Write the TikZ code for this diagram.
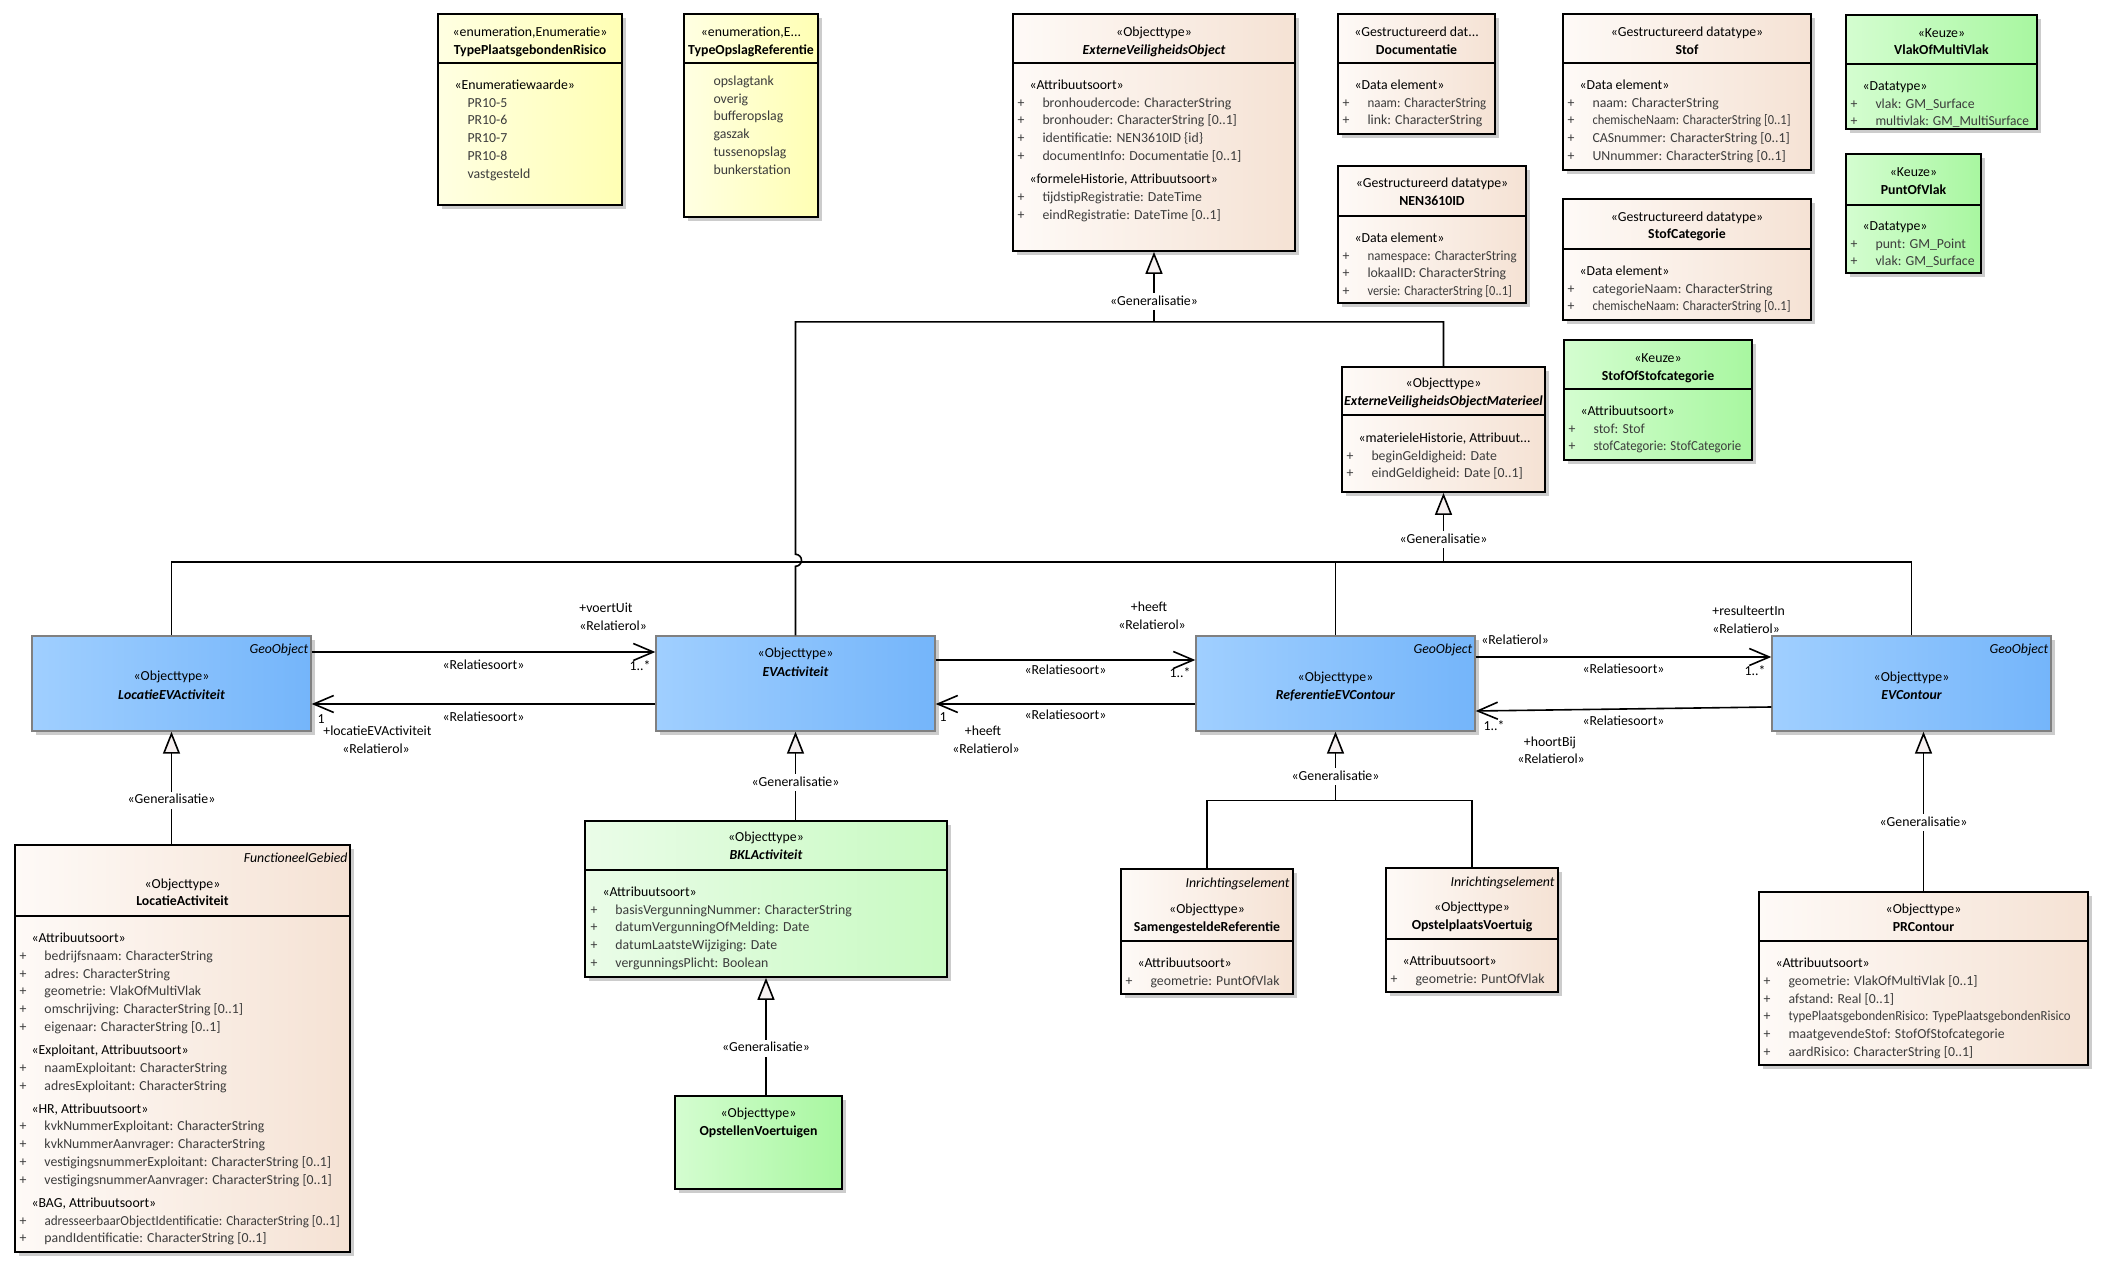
\documentclass[tikz,border=0pt]{standalone}
\usepackage{fontspec}
\setmainfont{Carlito}
\usetikzlibrary{arrows.meta, calc, fit, shadows}

\definecolor{enumL}{HTML}{FFFFE2}
\definecolor{enumR}{HTML}{FFFFB4}
\definecolor{objL}{HTML}{FEFAF7}
\definecolor{objR}{HTML}{F5E2D4}
\definecolor{keuzeL}{HTML}{D4FDD0}
\definecolor{keuzeR}{HTML}{A8F7A0}
\definecolor{bklL}{HTML}{EAFCE8}
\definecolor{bklR}{HTML}{C8FAC2}
\definecolor{geoL}{HTML}{A0CFFF}
\definecolor{geoR}{HTML}{74B5FA}
\definecolor{geoEdge}{HTML}{808080}
\definecolor{attrText}{HTML}{3C3C3C}
\definecolor{genFill}{HTML}{F6F0F0}

\newcommand{\umlfont}{\fontsize{6.9}{8.9}\selectfont}
\newcommand{\attr}[1]{\makebox[12.5pt][l]{+}#1}
\newcommand{\enumval}[1]{\hspace*{12.5pt}#1}
\newcommand{\stereo}[1]{\hspace*{6pt}{\color{black}#1}}
\newcommand{\squeeze}[2]{\scalebox{#1}[1]{#2}}
\newcommand{\sepline}[2]{\draw[divider] ($(#1.north west)+(0,#2)$) -- ($(#1.north east)+(0,#2)$);}

\tikzset{
  txt/.style={font=\umlfont, inner sep=0pt, text height=4.8pt, text depth=1.3pt},
  boxtxt/.style={txt, yshift=-1.35pt},
  clstitle/.style={boxtxt, font=\umlfont\bfseries},
  abstitle/.style={boxtxt, font=\umlfont\bfseries\itshape},
  tagline/.style={boxtxt, font=\umlfont\itshape, anchor=east},
  attrs/.style={font=\umlfont, inner sep=0pt, anchor=base west, text=attrText, yshift=-2pt},
  genlbl/.style={txt, fill=white, inner sep=1.2pt},
  box/.style={draw=black, line width=0.9pt, inner sep=0pt,
    drop shadow={shadow xshift=1.8pt, shadow yshift=-1.8pt, fill=black!20, opacity=1}},
  enumbox/.style={box, left color=enumL, right color=enumR},
  objbox/.style={box, left color=objL, right color=objR},
  keuzebox/.style={box, left color=keuzeL, right color=keuzeR},
  bklbox/.style={box, left color=bklL, right color=bklR},
  geobox/.style={box, draw=geoEdge, line width=0.7pt, left color=geoL, right color=geoR},
  divider/.style={line width=0.9pt},
  conn/.style={line width=0.8pt},
  gen/.style={conn, -{Triangle[fill=genFill, length=11pt, width=8.5pt]}},
  assoc/.style={conn, -{Straight Barb[length=10pt, width=8.5pt]}}
}

\begin{document}
\begin{tikzpicture}[x=0.5pt, y=-0.5pt]

    \path[fill=white] (0,0) rectangle (2111,1272);
    \useasboundingbox (0,0) rectangle (2111,1272);

    % Enumerations
    \node[enumbox, fit={(438,14) (622,205)}] (tpr) {};
    \node[boxtxt] (tpr-st) at ($(tpr.north)+(0,17)$) {«enumeration,Enumeratie»};
    \node[clstitle] (tpr-nm) at ($(tpr.north)+(0,35)$) {TypePlaatsgebondenRisico};
    \sepline{tpr}{50}
    \node[attrs] (tpr-at) at ($(tpr.north west)+(5,72.3)$) {\begin{tabular}[t]{@{}l@{}}
        \stereo{«Enumeratiewaarde»}\\ \enumval{PR10-5}\\ \enumval{PR10-6}\\
        \enumval{PR10-7}\\ \enumval{PR10-8}\\ \enumval{vastgesteld}\end{tabular}};

    \node[enumbox, fit={(684,14) (818,217)}] (tor) {};
    \node[boxtxt] (tor-st) at ($(tor.north)+(0,17)$) {«enumeration,E...};
    \node[clstitle] (tor-nm) at ($(tor.north)+(0,35)$) {TypeOpslagReferentie};
    \sepline{tor}{50}
    \node[attrs] (tor-at) at ($(tor.north west)+(5,68.3)$) {\begin{tabular}[t]{@{}l@{}}
        \enumval{opslagtank}\\ \enumval{overig}\\ \enumval{bufferopslag}\\
        \enumval{gaszak}\\ \enumval{tussenopslag}\\ \enumval{bunkerstation}\end{tabular}};

    % Top object type and data types
    \node[objbox, fit={(1013,14) (1295,251)}] (evo) {};
    \node[boxtxt] (evo-st) at ($(evo.north)+(0,17)$) {«Objecttype»};
    \node[abstitle] (evo-nm) at ($(evo.north)+(0,35)$) {ExterneVeiligheidsObject};
    \sepline{evo}{50}
    \node[attrs] (evo-at) at ($(evo.north west)+(5,72.3)$) {\begin{tabular}[t]{@{}l@{}}
        \stereo{«Attribuutsoort»}\\ \attr{bronhoudercode: CharacterString}\\
        \attr{bronhouder: CharacterString [0..1]}\\ \attr{identificatie: NEN3610ID \{id\}}\\
        \attr{documentInfo: Documentatie [0..1]}\\[2.6pt]
        \stereo{«formeleHistorie, Attribuutsoort»}\\ \attr{tijdstipRegistratie: DateTime}\\
        \attr{eindRegistratie: DateTime [0..1]}\end{tabular}};

    \node[objbox, fit={(1338,14) (1495,134)}] (doc) {};
    \node[boxtxt] (doc-st) at ($(doc.north)+(0,17)$) {«Gestructureerd dat...};
    \node[clstitle] (doc-nm) at ($(doc.north)+(0,35)$) {Documentatie};
    \sepline{doc}{50}
    \node[attrs] (doc-at) at ($(doc.north west)+(5,72.3)$) {\begin{tabular}[t]{@{}l@{}}
        \stereo{«Data element»}\\ \attr{\squeeze{0.94}{naam: CharacterString}}\\
        \attr{link: CharacterString}\end{tabular}};

    \node[objbox, fit={(1338,166) (1526,303)}] (nen) {};
    \node[boxtxt] (nen-st) at ($(nen.north)+(0,16)$) {«Gestructureerd datatype»};
    \node[clstitle] (nen-nm) at ($(nen.north)+(0,34)$) {NEN3610ID};
    \sepline{nen}{51}
    \node[attrs] (nen-at) at ($(nen.north west)+(5,73.3)$) {\begin{tabular}[t]{@{}l@{}}
        \stereo{«Data element»}\\ \attr{\squeeze{0.94}{namespace: CharacterString}}\\
        \attr{lokaalID: CharacterString}\\ \attr{\squeeze{0.9}{versie: CharacterString [0..1]}}\end{tabular}};

    \node[objbox, fit={(1563,14) (1811,170)}] (stof) {};
    \node[boxtxt] (stof-st) at ($(stof.north)+(0,17)$) {«Gestructureerd datatype»};
    \node[clstitle] (stof-nm) at ($(stof.north)+(0,35)$) {Stof};
    \sepline{stof}{50}
    \node[attrs] (stof-at) at ($(stof.north west)+(5,72.3)$) {\begin{tabular}[t]{@{}l@{}}
        \stereo{«Data element»}\\ \attr{naam: CharacterString}\\
        \attr{\squeeze{0.9}{chemischeNaam: CharacterString [0..1]}}\\ \attr{CASnummer: CharacterString [0..1]}\\
        \attr{UNnummer: CharacterString [0..1]}\end{tabular}};

    \node[objbox, fit={(1563,199) (1811,320)}] (stofcat) {};
    \node[boxtxt] (stofcat-st) at ($(stofcat.north)+(0,17)$) {«Gestructureerd datatype»};
    \node[clstitle] (stofcat-nm) at ($(stofcat.north)+(0,34)$) {StofCategorie};
    \sepline{stofcat}{51}
    \node[attrs] (stofcat-at) at ($(stofcat.north west)+(5,73.3)$) {\begin{tabular}[t]{@{}l@{}}
        \stereo{«Data element»}\\ \attr{categorieNaam: CharacterString}\\
        \attr{\squeeze{0.9}{chemischeNaam: CharacterString [0..1]}}\end{tabular}};

    % Choice types
    \node[keuzebox, fit={(1564,340) (1752,460)}] (sosc) {};
    \node[boxtxt] (sosc-st) at ($(sosc.north)+(0,17)$) {«Keuze»};
    \node[clstitle] (sosc-nm) at ($(sosc.north)+(0,35)$) {StofOfStofcategorie};
    \sepline{sosc}{50}
    \node[attrs] (sosc-at) at ($(sosc.north west)+(5,72.3)$) {\begin{tabular}[t]{@{}l@{}}
        \stereo{«Attribuutsoort»}\\ \attr{stof: Stof}\\
        \attr{\squeeze{0.93}{stofCategorie: StofCategorie}}\end{tabular}};

    \node[keuzebox, fit={(1846,15) (2037,129)}] (vomv) {};
    \node[boxtxt] (vomv-st) at ($(vomv.north)+(0,17)$) {«Keuze»};
    \node[clstitle] (vomv-nm) at ($(vomv.north)+(0,34)$) {VlakOfMultiVlak};
    \sepline{vomv}{50}
    \node[attrs] (vomv-at) at ($(vomv.north west)+(5,72.3)$) {\begin{tabular}[t]{@{}l@{}}
        \stereo{«Datatype»}\\ \attr{vlak: GM\_Surface}\\
        \attr{\squeeze{0.97}{multivlak: GM\_MultiSurface}}\end{tabular}};

    \node[keuzebox, fit={(1846,154) (1981,273)}] (pov) {};
    \node[boxtxt] (pov-st) at ($(pov.north)+(0,17)$) {«Keuze»};
    \node[clstitle] (pov-nm) at ($(pov.north)+(0,35)$) {PuntOfVlak};
    \sepline{pov}{52}
    \node[attrs] (pov-at) at ($(pov.north west)+(5,73.3)$) {\begin{tabular}[t]{@{}l@{}}
        \stereo{«Datatype»}\\ \attr{punt: GM\_Point}\\
        \attr{vlak: GM\_Surface}\end{tabular}};

    % Materieel object type
    \node[objbox, fit={(1342,367) (1545,492)}] (evom) {};
    \node[boxtxt] (evom-st) at ($(evom.north)+(0,15)$) {«Objecttype»};
    \node[abstitle] (evom-nm) at ($(evom.north)+(0,33)$) {ExterneVeiligheidsObjectMaterieel};
    \sepline{evom}{49}
    \node[attrs] (evom-at) at ($(evom.north west)+(5,72.3)$) {\begin{tabular}[t]{@{}l@{}}
        \stereo{«materieleHistorie, Attribuut...}\\ \attr{beginGeldigheid: Date}\\
        \attr{eindGeldigheid: Date [0..1]}\end{tabular}};

    % GeoObject row
    \node[geobox, fit={(32,636) (311,731)}] (leva) {};
    \node[tagline] (leva-tg) at ($(leva.north east)+(-3,12)$) {GeoObject};
    \node[boxtxt] (leva-st) at ($(leva.north)+(0,39)$) {«Objecttype»};
    \node[abstitle] (leva-nm) at ($(leva.north)+(0,58)$) {LocatieEVActiviteit};

    \node[geobox, fit={(656,636) (935,731)}] (eva) {};
    \node[boxtxt] (eva-st) at ($(eva.north)+(0,16)$) {«Objecttype»};
    \node[abstitle] (eva-nm) at ($(eva.north)+(0,35)$) {EVActiviteit};

    \node[geobox, fit={(1196,636) (1475,731)}] (revc) {};
    \node[tagline] (revc-tg) at ($(revc.north east)+(-3,12)$) {GeoObject};
    \node[boxtxt] (revc-st) at ($(revc.north)+(0,40)$) {«Objecttype»};
    \node[abstitle] (revc-nm) at ($(revc.north)+(0,58)$) {ReferentieEVContour};

    \node[geobox, fit={(1772,636) (2051,731)}] (evc) {};
    \node[tagline] (evc-tg) at ($(evc.north east)+(-3,12)$) {GeoObject};
    \node[boxtxt] (evc-st) at ($(evc.north)+(0,40)$) {«Objecttype»};
    \node[abstitle] (evc-nm) at ($(evc.north)+(0,58)$) {EVContour};

    % Lower object types
    \node[objbox, fit={(15,845) (350,1252)}] (la) {};
    \node[tagline] (la-tg) at ($(la.north east)+(-3,12)$) {FunctioneelGebied};
    \node[boxtxt] (la-st) at ($(la.north)+(0,38)$) {«Objecttype»};
    \node[clstitle] (la-nm) at ($(la.north)+(0,55)$) {LocatieActiviteit};
    \sepline{la}{72}
    \node[attrs] (la-at) at ($(la.north west)+(5,94.3)$) {\begin{tabular}[t]{@{}l@{}}
        \stereo{«Attribuutsoort»}\\ \attr{bedrijfsnaam: CharacterString}\\
        \attr{adres: CharacterString}\\ \attr{geometrie: VlakOfMultiVlak}\\
        \attr{omschrijving: CharacterString [0..1]}\\ \attr{eigenaar: CharacterString [0..1]}\\[2.6pt]
        \stereo{«Exploitant, Attribuutsoort»}\\ \attr{naamExploitant: CharacterString}\\
        \attr{adresExploitant: CharacterString}\\[2.6pt]
        \stereo{«HR, Attribuutsoort»}\\ \attr{kvkNummerExploitant: CharacterString}\\
        \attr{kvkNummerAanvrager: CharacterString}\\
        \attr{vestigingsnummerExploitant: CharacterString [0..1]}\\
        \attr{vestigingsnummerAanvrager: CharacterString [0..1]}\\[2.6pt]
        \stereo{«BAG, Attribuutsoort»}\\
        \attr{\squeeze{0.95}{adresseerbaarObjectIdentificatie: CharacterString [0..1]}}\\
        \attr{pandIdentificatie: CharacterString [0..1]}\end{tabular}};

    \node[bklbox, fit={(585,821) (947,977)}] (bkl) {};
    \node[boxtxt] (bkl-st) at ($(bkl.north)+(0,15)$) {«Objecttype»};
    \node[abstitle] (bkl-nm) at ($(bkl.north)+(0,33)$) {BKLActiviteit};
    \sepline{bkl}{50}
    \node[attrs] (bkl-at) at ($(bkl.north west)+(6,72.3)$) {\begin{tabular}[t]{@{}l@{}}
        \stereo{«Attribuutsoort»}\\ \attr{basisVergunningNummer: CharacterString}\\
        \attr{datumVergunningOfMelding: Date}\\ \attr{datumLaatsteWijziging: Date}\\
        \attr{vergunningsPlicht: Boolean}\end{tabular}};

    \node[keuzebox, fit={(675,1096) (842,1189)}] (ov) {};
    \node[boxtxt] (ov-st) at ($(ov.north)+(0,16)$) {«Objecttype»};
    \node[clstitle] (ov-nm) at ($(ov.north)+(0,34)$) {OpstellenVoertuigen};

    \node[objbox, fit={(1121,869) (1293,994)}] (sr) {};
    \node[tagline] (sr-tg) at ($(sr.north east)+(-4,13)$) {Inrichtingselement};
    \node[boxtxt] (sr-st) at ($(sr.north)+(0,39)$) {«Objecttype»};
    \node[clstitle] (sr-nm) at ($(sr.north)+(0,57)$) {SamengesteldeReferentie};
    \sepline{sr}{73}
    \node[attrs] (sr-at) at ($(sr.north west)+(5,95.3)$) {\begin{tabular}[t]{@{}l@{}}
        \stereo{«Attribuutsoort»}\\ \attr{geometrie: PuntOfVlak}\end{tabular}};

    \node[objbox, fit={(1386,868) (1558,992)}] (opv) {};
    \node[tagline] (opv-tg) at ($(opv.north east)+(-4,13)$) {Inrichtingselement};
    \node[boxtxt] (opv-st) at ($(opv.north)+(0,38)$) {«Objecttype»};
    \node[clstitle] (opv-nm) at ($(opv.north)+(0,56)$) {OpstelplaatsVoertuig};
    \sepline{opv}{72}
    \node[attrs] (opv-at) at ($(opv.north west)+(5,94.3)$) {\begin{tabular}[t]{@{}l@{}}
        \stereo{«Attribuutsoort»}\\ \attr{geometrie: PuntOfVlak}\end{tabular}};

    \node[objbox, fit={(1759,892) (2088,1065)}] (prc) {};
    \node[boxtxt] (prc-st) at ($(prc.north)+(0,16)$) {«Objecttype»};
    \node[clstitle] (prc-nm) at ($(prc.north)+(0,34)$) {PRContour};
    \sepline{prc}{50}
    \node[attrs] (prc-at) at ($(prc.north west)+(5,72.3)$) {\begin{tabular}[t]{@{}l@{}}
        \stereo{«Attribuutsoort»}\\ \attr{geometrie: VlakOfMultiVlak [0..1]}\\
        \attr{afstand: Real [0..1]}\\
        \attr{\squeeze{0.93}{typePlaatsgebondenRisico: TypePlaatsgebondenRisico}}\\
        \attr{maatgevendeStof: StofOfStofcategorie}\\
        \attr{aardRisico: CharacterString [0..1]}\end{tabular}};

    % Generalisations
    \coordinate (evoJ) at ($(evo.south)+(0,70)$);
    \coordinate (evomJ) at ($(evom.south)+(0,69)$);
    \coordinate (revcJ) at ($(revc.south)+(0,69)$);

    \draw[gen] (evoJ) -- (evo.south) node[genlbl, pos=0.29] (g-evo) {«Generalisatie»};
    \draw[conn] (eva.north) -- ($(eva.north)+(0,-69)$) arc[start angle=90, end angle=-90, radius=6]
        -- (eva.north |- evoJ) -- (evom.north |- evoJ) -- (evom.north);

    \draw[gen] (evomJ) -- (evom.south) node[genlbl, pos=0.32] (g-evom) {«Generalisatie»};
    \draw[conn] (leva.north) -- (leva.north |- evomJ) -- (evc.north |- evomJ) -- (evc.north);
    \draw[conn] (revc.north) -- (revc.north |- evomJ);

    \draw[gen] (leva.south |- la.north) -- (leva.south) node[genlbl, pos=0.39] (g-leva) {«Generalisatie»};
    \draw[gen] (eva.south |- bkl.north) -- (eva.south) node[genlbl, pos=0.42] (g-eva) {«Generalisatie»};
    \draw[gen] (bkl.south |- ov.north) -- (bkl.south) node[genlbl, pos=0.40] (g-bkl) {«Generalisatie»};

    \draw[conn] (sr.north) -- (sr.north |- revcJ) -- (opv.north |- revcJ) -- (opv.north);
    \draw[gen] (revcJ) -- (revc.south) node[genlbl, pos=0.35] (g-revc) {«Generalisatie»};
    \draw[gen] (prc.north) -- (prc.north |- evc.south) node[genlbl, pos=0.43] (g-evc) {«Generalisatie»};

    % Associations
    \draw[assoc] ($(leva.east)+(0,-31.5)$) -- ($(eva.west)+(0,-31.5)$)
        node[txt, midway, below=3.5pt] (a1) {«Relatiesoort»};
    \node[txt, anchor=west] (a1-r) at (579,609) {+voertUit};
    \node[txt, anchor=west] (a1-s) at (579,627) {«Relatierol»};
    \node[txt] (a1-m) at (640,667) {1..*};

    \draw[assoc] ($(eva.west)+(0,20.5)$) -- ($(leva.east)+(0,20.5)$)
        node[txt, midway, below=3.5pt] (a2) {«Relatiesoort»};
    \node[txt] (a2-m) at (321,720) {1};
    \node[txt, anchor=west] (a2-r) at (323,732) {+locatieEVActiviteit};
    \node[txt] (a2-s) at (376,750) {«Relatierol»};

    \draw[assoc] ($(eva.east)+(0,-23.5)$) -- ($(revc.west)+(0,-23.5)$)
        node[txt, midway, below=2pt] (a3) {«Relatiesoort»};
    \node[txt] (a3-r) at (1149,608) {+heeft};
    \node[txt] (a3-s) at (1152,626) {«Relatierol»};
    \node[txt] (a3-m) at (1180,674) {1..*};

    \draw[assoc] ($(revc.west)+(0,20.5)$) -- ($(eva.east)+(0,20.5)$)
        node[txt, midway, below=2.5pt] (a4) {«Relatiesoort»};
    \node[txt] (a4-m) at (943,718) {1};
    \node[txt] (a4-r) at (983,732) {+heeft};
    \node[txt] (a4-s) at (986,750) {«Relatierol»};

    \draw[assoc] ($(revc.east)+(0,-26.5)$) -- ($(evc.west)+(0,-26.5)$)
        node[txt, midway, below=3pt] (a5) {«Relatiesoort»};
    \node[txt, anchor=west] (a5-t) at (1481,641) {«Relatierol»};
    \node[txt, anchor=west] (a5-r) at (1712,612) {+resulteertIn};
    \node[txt, anchor=west] (a5-s) at (1712,630) {«Relatierol»};
    \node[txt] (a5-m) at (1755,672) {1..*};

    \draw[assoc] ($(evc.west)+(0,23.5)$) -- ($(revc.east)+(0,27.5)$)
        node[txt, midway, below=3pt] (a6) {«Relatiesoort»};
    \node[txt] (a6-m) at (1494,727) {1..*};
    \node[txt] (a6-r) at (1550,743) {+hoortBij};
    \node[txt] (a6-s) at (1551,760) {«Relatierol»};

\end{tikzpicture}
\end{document}
